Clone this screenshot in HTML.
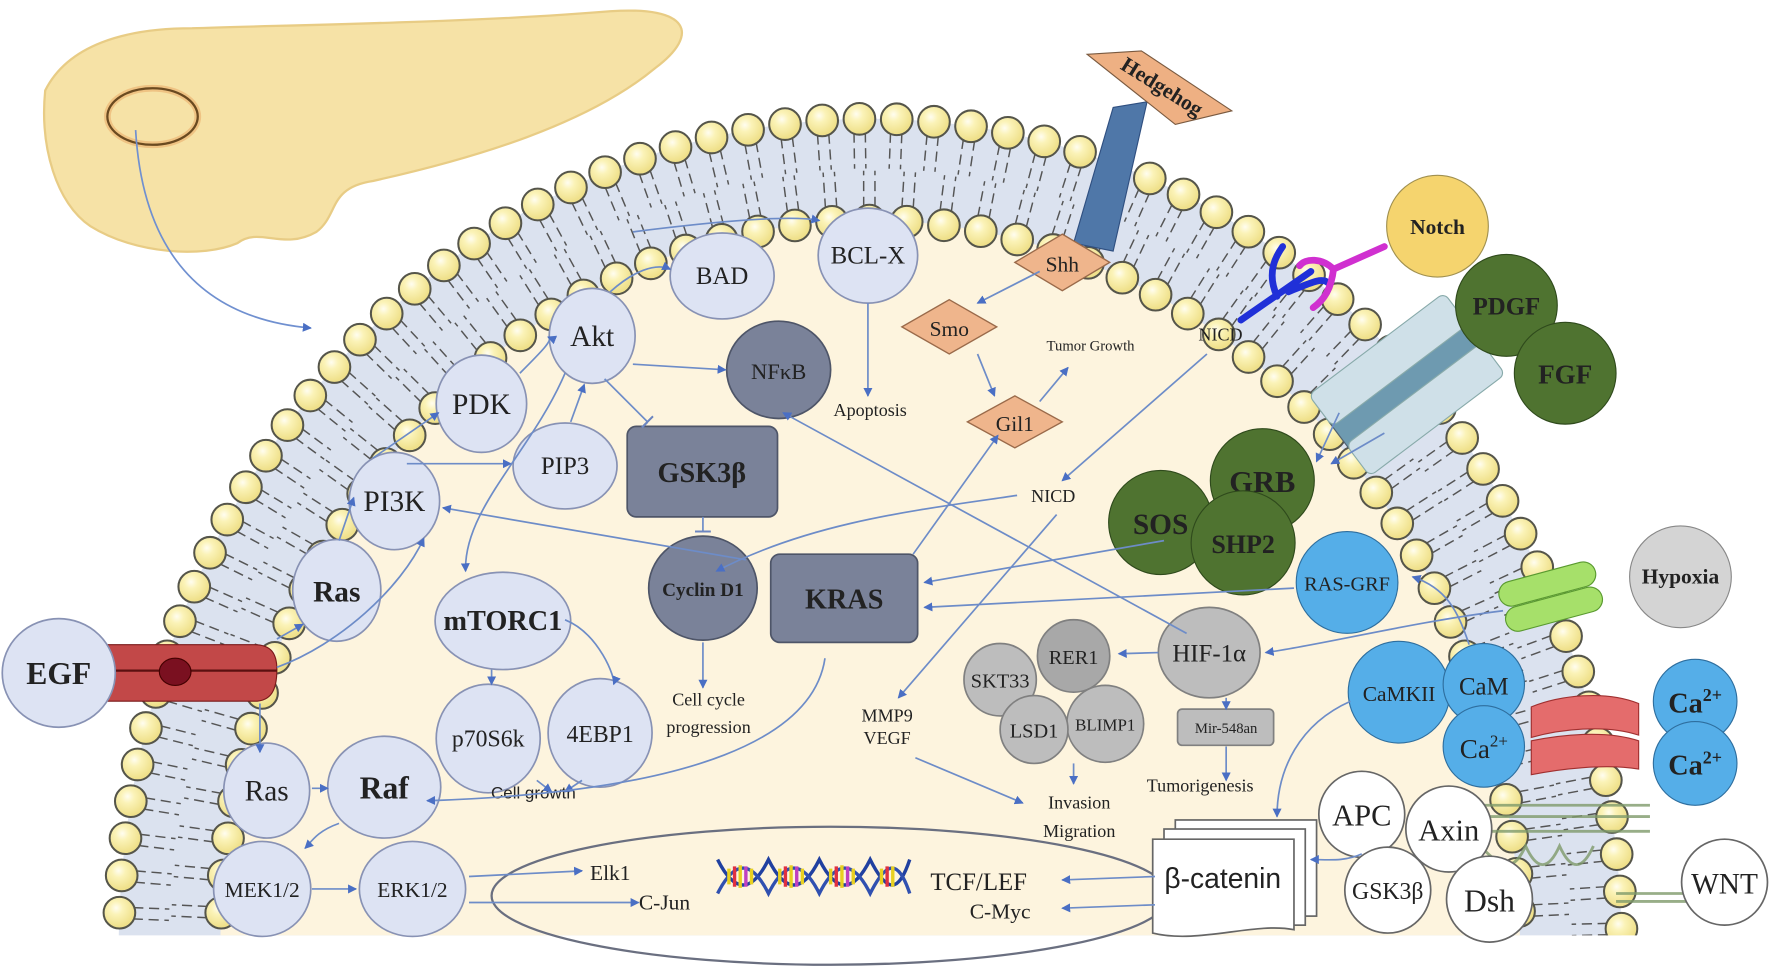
<!DOCTYPE html>
<html><head><meta charset="utf-8"><style>
html,body{margin:0;padding:0;background:#fff;width:1772px;height:967px;overflow:hidden;}
svg{display:block;overflow:hidden}
text{font-family:"Liberation Serif",serif;fill:#222;}
</style></head><body>
<svg id="s" width="1772" height="967" viewBox="0 0 1568 855" preserveAspectRatio="none" xmlns="http://www.w3.org/2000/svg">
<defs>
<marker id="a" markerWidth="8" markerHeight="8" refX="7" refY="4" orient="auto" markerUnits="userSpaceOnUse"><path d="M0,0 L8,4 L0,8 Z" fill="#4a6fc4"/></marker>
<marker id="t" markerWidth="2" markerHeight="14" refX="1" refY="7" orient="auto" markerUnits="userSpaceOnUse"><rect x="0" y="0" width="2" height="14" fill="#6d86c0"/></marker>
<clipPath id="cell"><rect x="0" y="0" width="1568" height="827"/></clipPath>
<clipPath id="all"><rect x="0" y="0" width="1568" height="855"/></clipPath>
<radialGradient id="bead" cx="0.4" cy="0.35" r="0.6"><stop offset="0" stop-color="#fffdf0"/><stop offset="0.35" stop-color="#fbf3b8"/><stop offset="1" stop-color="#efe08a"/></radialGradient>
</defs>
<g clip-path="url(#all)">
<path d="M40,80 C60,40 110,25 170,25 C260,22 420,20 540,10 C610,5 620,30 580,60 C520,110 420,140 330,160 C290,166 300,190 280,205 C250,222 230,200 210,215 C180,228 120,225 80,200 C50,180 35,130 40,80 Z" fill="#f6e2a6" stroke="#e8cc85" stroke-width="2"/>
<ellipse cx="135" cy="103" rx="40" ry="25" fill="none" stroke="#e8a460" stroke-width="6" opacity="0.5"/>
<ellipse cx="135" cy="103" rx="40" ry="25" fill="none" stroke="#6a4a20" stroke-width="2"/>
<path d="M120,115 C125,200 160,280 275,290" fill="none" stroke="#7090d0" stroke-width="1.5" marker-end="url(#a)"/>

<g clip-path="url(#cell)">
<path d="M105,840 A665,735 0 0 1 1435,840 Z" fill="#dbe2ef"/>
<path d="M195,840 A575,645 0 0 1 1345,840 Z" fill="#fdf4de"/>
<g id="tails" stroke="#555" stroke-width="1.3" stroke-dasharray="9 5"></g>
<g id="beads"></g>
</g>

<ellipse cx="735" cy="792" rx="300" ry="61" fill="none" stroke="#6a6f80" stroke-width="2"/>

<polygon points="985,95 1015,90 985,222 950,215" fill="#4f77a8" stroke="#2f4f80" stroke-width="1"/>
<polygon points="962,48 1010,45 1090,98 1040,110" fill="#eeb083" stroke="#7a5a40"/>
<text x="1025" y="82" font-size="19" font-weight="bold" transform="rotate(32 1025 82)" text-anchor="middle">Hedgehog</text>

<path d="M1098,283 L1160,240 M1130,262 C1120,240 1130,225 1135,218 M1140,258 C1160,250 1170,245 1175,250" stroke="#2030d8" stroke-width="6" fill="none" stroke-linecap="round"/>
<path d="M1225,218 L1180,238 M1180,238 C1170,228 1155,228 1150,235 M1180,238 C1178,255 1172,265 1162,272" stroke="#d030d0" stroke-width="6" fill="none" stroke-linecap="round"/>
<circle cx="1272" cy="200" r="45" fill="#f5d46e" stroke="#a09050"/>
<text x="1272" y="207" font-size="19" font-weight="bold" text-anchor="middle">Notch</text>

<g transform="rotate(-37 1250 355)">
<rect x="1180" y="325" width="150" height="28" fill="#6e9ab0" stroke="#506070"/>
<rect x="1180" y="295" width="150" height="35" rx="6" fill="#cfe0e8" stroke="#8aa"/>
<rect x="1180" y="350" width="150" height="35" rx="6" fill="#cfe0e8" stroke="#8aa"/>
</g>
<circle cx="1333" cy="270" r="45" fill="#4f7330" stroke="#2f4a1c"/>
<text x="1333" y="278" font-size="22" font-weight="bold" text-anchor="middle">PDGF</text>
<circle cx="1385" cy="330" r="45" fill="#4f7330" stroke="#2f4a1c"/>
<text x="1385" y="339" font-size="24" font-weight="bold" text-anchor="middle">FGF</text>

<circle cx="1117" cy="425" r="46" fill="#4f7330" stroke="#2f4a1c"/>
<text x="1117" y="435" font-size="27" font-weight="bold" text-anchor="middle">GRB</text>
<circle cx="1027" cy="462" r="46" fill="#4f7330" stroke="#2f4a1c"/>
<text x="1027" y="472" font-size="26" font-weight="bold" text-anchor="middle">SOS</text>
<circle cx="1100" cy="480" r="46" fill="#4f7330" stroke="#2f4a1c"/>
<text x="1100" y="489" font-size="23" font-weight="bold" text-anchor="middle">SHP2</text>

<g transform="rotate(-15 1372 527)">
<rect x="1328" y="505" width="88" height="22" rx="11" fill="#a6e06a" stroke="#5a9a30"/>
<rect x="1328" y="528" width="88" height="22" rx="11" fill="#a6e06a" stroke="#5a9a30"/>
</g>
<circle cx="1487" cy="510" r="45" fill="#d4d4d4" stroke="#888"/>
<text x="1487" y="516" font-size="19" font-weight="bold" text-anchor="middle">Hypoxia</text>

<circle cx="1192" cy="515" r="45" fill="#55aee8" stroke="#2e6e9e"/>
<text x="1192" y="522" font-size="18" text-anchor="middle">RAS-GRF</text>

<path d="M1355,625 C1380,615 1420,610 1450,622 L1450,650 C1420,640 1380,645 1355,652 Z" fill="#e46c6c" stroke="#a03030"/>
<path d="M1355,655 C1380,650 1420,645 1450,655 L1450,680 C1420,675 1380,680 1355,685 Z" fill="#e46c6c" stroke="#a03030"/>
<circle cx="1238" cy="612" r="45" fill="#55aee8" stroke="#2e6e9e"/>
<text x="1238" y="620" font-size="19" text-anchor="middle">CaMKII</text>
<circle cx="1313" cy="605" r="36" fill="#55aee8" stroke="#2e6e9e"/>
<text x="1313" y="614" font-size="22" text-anchor="middle">CaM</text>
<circle cx="1313" cy="660" r="36" fill="#55aee8" stroke="#2e6e9e"/>
<text x="1313" y="670" font-size="24" text-anchor="middle">Ca<tspan font-size="15" dy="-10">2+</tspan></text>
<circle cx="1500" cy="620" r="37" fill="#55aee8" stroke="#2e6e9e"/>
<text x="1500" y="630" font-size="25" font-weight="bold" text-anchor="middle">Ca<tspan font-size="16" dy="-10">2+</tspan></text>
<circle cx="1500" cy="675" r="37" fill="#55aee8" stroke="#2e6e9e"/>
<text x="1500" y="685" font-size="25" font-weight="bold" text-anchor="middle">Ca<tspan font-size="16" dy="-10">2+</tspan></text>

<path d="M1310,712 L1460,712 M1310,722 L1460,722 M1310,735 L1460,735 M1310,748 C1330,770 1340,770 1350,748 C1360,770 1370,770 1380,748 C1390,770 1400,770 1410,748 M1430,790 L1510,790 M1430,797 L1510,797" stroke="#7e9a6a" stroke-width="2.5" fill="none" opacity="0.8"/>

<g fill="#fff" stroke="#666" stroke-width="1.5">
<circle cx="1205" cy="720" r="38"/><circle cx="1282" cy="733" r="38"/><circle cx="1228" cy="787" r="38"/><circle cx="1318" cy="795" r="38"/><circle cx="1526" cy="780" r="38"/>
</g>
<text x="1205" y="730" font-size="27" text-anchor="middle">APC</text>
<text x="1282" y="743" font-size="27" text-anchor="middle">Axin</text>
<text x="1228" y="795" font-size="21" text-anchor="middle">GSK3β</text>
<text x="1318" y="806" font-size="28" text-anchor="middle">Dsh</text>
<text x="1526" y="790" font-size="26" text-anchor="middle">WNT</text>

<g fill="#fff" stroke="#666" stroke-width="1.5">
<rect x="1040" y="725" width="125" height="85"/>
<rect x="1030" y="733" width="125" height="85"/>
<path d="M1020,742 L1145,742 L1145,822 C1110,815 1060,835 1020,825 Z"/>
</g>
<text x="1082" y="785" font-size="25" text-anchor="middle" style="font-family:'Liberation Sans',sans-serif">β-catenin</text>

<g fill="#bdbdbd" stroke="#808080" stroke-width="1.5">
<circle cx="885" cy="601" r="32"/><circle cx="950" cy="580" r="32" fill="#a8a8a8"/><circle cx="978" cy="640" r="34"/><circle cx="915" cy="645" r="30"/>
<ellipse cx="1070" cy="577" rx="45" ry="40"/>
<rect x="1042" y="627" width="85" height="32" rx="4"/>
</g>
<text x="885" y="608" font-size="18" text-anchor="middle">SKT33</text>
<text x="950" y="587" font-size="18" text-anchor="middle">RER1</text>
<text x="915" y="652" font-size="18" text-anchor="middle">LSD1</text>
<text x="978" y="646" font-size="15" text-anchor="middle">BLIMP1</text>
<text x="1070" y="585" font-size="22" text-anchor="middle">HIF-1α</text>
<text x="1085" y="648" font-size="13" text-anchor="middle">Mir-548an</text>

<g fill="#efb58c" stroke="#9a6a4a" stroke-width="1.2">
<polygon points="940,207 982,232 940,257 898,232"/>
<polygon points="840,265 882,289 840,313 798,289"/>
<polygon points="898,350 940,373 898,396 856,373"/>
</g>
<text x="940" y="240" font-size="19" text-anchor="middle">Shh</text>
<text x="840" y="297" font-size="19" text-anchor="middle">Smo</text>
<text x="898" y="381" font-size="19" text-anchor="middle">Gil1</text>

<g fill="#dde3f3" stroke="#8892b4" stroke-width="1.5">
<ellipse cx="768" cy="226" rx="44" ry="42"/>
<ellipse cx="639" cy="244" rx="46" ry="38"/>
<ellipse cx="524" cy="297" rx="38" ry="42"/>
<ellipse cx="426" cy="357" rx="40" ry="43"/>
<ellipse cx="500" cy="412" rx="46" ry="38"/>
<ellipse cx="349" cy="443" rx="40" ry="43"/>
<ellipse cx="298" cy="522" rx="39" ry="45"/>
<ellipse cx="445" cy="549" rx="60" ry="43"/>
<ellipse cx="432" cy="653" rx="46" ry="48"/>
<ellipse cx="531" cy="648" rx="46" ry="48"/>
<ellipse cx="236" cy="699" rx="38" ry="42"/>
<ellipse cx="340" cy="696" rx="50" ry="45"/>
<ellipse cx="232" cy="786" rx="43" ry="42"/>
<ellipse cx="365" cy="786" rx="47" ry="42"/>
</g>
<path d="M85,570 L225,570 C240,570 245,578 245,592 C245,610 240,620 225,620 L85,620 Z" fill="#c24848" stroke="#7a1a1a"/>
<path d="M85,593 L245,593" stroke="#5a1010" stroke-width="2"/>
<ellipse cx="155" cy="594" rx="14" ry="12" fill="#7a1020" stroke="#400"/>
<ellipse cx="52" cy="595" rx="50" ry="48" fill="#dde3f3" stroke="#8892b4" stroke-width="1.5"/>

<g font-size="22" text-anchor="middle">
<text x="768" y="233">BCL-X</text>
<text x="639" y="251">BAD</text>
<text x="524" y="306" font-size="26">Akt</text>
<text x="426" y="366" font-size="26">PDK</text>
<text x="500" y="419">PIP3</text>
<text x="349" y="452" font-size="26">PI3K</text>
<text x="298" y="532" font-size="26" font-weight="bold">Ras</text>
<text x="445" y="557" font-size="25" font-weight="bold">mTORC1</text>
<text x="432" y="660" font-size="21">p70S6k</text>
<text x="531" y="656" font-size="21">4EBP1</text>
<text x="52" y="605" font-size="28" font-weight="bold">EGF</text>
<text x="236" y="708" font-size="26">Ras</text>
<text x="340" y="706" font-size="28" font-weight="bold">Raf</text>
<text x="232" y="793" font-size="19">MEK1/2</text>
<text x="365" y="793" font-size="19">ERK1/2</text>
</g>

<g fill="#7a8299" stroke="#4e5568" stroke-width="1.5">
<ellipse cx="689" cy="327" rx="46" ry="43"/>
<ellipse cx="622" cy="520" rx="48" ry="46"/>
<rect x="555" y="377" width="133" height="80" rx="8"/>
<rect x="682" y="490" width="130" height="78" rx="8"/>
</g>
<text x="689" y="335" font-size="20" text-anchor="middle">NFκB</text>
<text x="622" y="527" font-size="17" font-weight="bold" text-anchor="middle">Cyclin D1</text>
<text x="621" y="426" font-size="25" font-weight="bold" text-anchor="middle">GSK3β</text>
<text x="747" y="538" font-size="25" font-weight="bold" text-anchor="middle">KRAS</text>

<g font-size="16" text-anchor="middle">
<text x="770" y="368">Apoptosis</text>
<text x="965" y="310" font-size="13">Tumor Growth</text>
<text x="1080" y="301">NICD</text>
<text x="932" y="444">NICD</text>
<text x="627" y="624">Cell cycle</text>
<text x="627" y="648">progression</text>
<text x="472" y="706" font-size="15" style="font-family:'Liberation Sans',sans-serif">Cell growth</text>
<text x="785" y="638">MMP9</text>
<text x="785" y="658">VEGF</text>
<text x="955" y="715">Invasion</text>
<text x="955" y="740">Migration</text>
<text x="1062" y="700">Tumorigenesis</text>
<text x="540" y="778" font-size="19">Elk1</text>
<text x="588" y="804" font-size="19">C-Jun</text>
<text x="866" y="787" font-size="22">TCF/LEF</text>
<text x="885" y="812" font-size="19">C-Myc</text>
</g>

<g stroke-width="3" fill="none">
<path d="M635,760 C650,790 665,790 680,760 C695,790 710,790 725,760 C740,790 755,790 770,760 C785,790 795,790 805,760" stroke="#2040a0"/>
<path d="M635,790 C650,760 665,760 680,790 C695,760 710,760 725,790 C740,760 755,760 770,790 C785,760 795,760 805,790" stroke="#3050b0"/>
</g>
<g stroke-width="3">
<path d="M645,768 V782 M655,765 V785 M665,768 V782 M690,768 V782 M700,765 V785 M710,768 V782 M735,768 V782 M745,765 V785 M755,768 V782 M780,768 V782 M790,766 V784" stroke="#e8d020"/>
<path d="M650,766 V784 M695,766 V784 M740,766 V784 M785,766 V784" stroke="#e03040"/>
<path d="M660,766 V784 M705,766 V784 M750,766 V784" stroke="#c040c0"/>
</g>

<g fill="none" stroke="#6d8cc8" stroke-width="1.5" marker-end="url(#a)">
<path d="M460,330 C480,310 490,300 485,298"/>
<path d="M540,258 C560,240 580,232 593,238"/>
<path d="M560,205 C640,195 700,190 725,195"/>
<path d="M768,268 L768,350"/>
<path d="M560,322 L642,327"/>
<path d="M505,373 L517,340"/>
<path d="M360,410 L452,410"/>
<path d="M330,405 L388,365"/>
<path d="M300,478 L313,440"/>
<path d="M245,590 C300,570 355,520 375,476"/>
<path d="M245,565 L268,552"/>
<path d="M500,330 C470,400 410,450 412,505"/>
<path d="M500,548 C530,560 545,600 543,605"/>
<path d="M435,592 L435,605"/>
<path d="M660,495 L392,449"/>
<path d="M900,438 C820,450 720,460 634,505"/>
<path d="M808,490 L883,385"/>
<path d="M920,355 L945,325"/>
<path d="M865,313 L880,350"/>
<path d="M920,240 L865,268"/>
<path d="M1068,313 L940,425"/>
<path d="M935,455 L795,617"/>
<path d="M1050,560 L693,365"/>
<path d="M1030,478 L818,515"/>
<path d="M1145,520 L818,537"/>
<path d="M1330,540 C1250,550 1170,570 1120,577"/>
<path d="M1300,570 C1290,540 1280,520 1250,510"/>
<path d="M1225,383 L1178,410"/>
<path d="M1185,365 L1165,408"/>
<path d="M1025,577 L990,578"/>
<path d="M1085,617 L1085,627"/>
<path d="M1085,660 L1085,690"/>
<path d="M950,675 L950,693"/>
<path d="M810,670 L905,710"/>
<path d="M1195,620 C1150,640 1130,680 1130,722"/>
<path d="M1205,755 C1190,762 1175,760 1160,760"/>
<path d="M1022,775 L940,778"/>
<path d="M1022,800 L940,803"/>
<path d="M622,568 L622,608"/>
<path d="M475,690 L488,700"/>
<path d="M515,690 L500,700"/>
<path d="M730,582 C720,650 620,700 378,708"/>
<path d="M230,622 L230,665"/>
<path d="M276,697 L290,697"/>
<path d="M300,728 C280,735 275,745 270,750"/>
<path d="M276,786 L315,786"/>
<path d="M415,775 L515,770"/>
<path d="M415,798 L565,798"/>
</g>
<g fill="none" stroke="#6d8cc8" stroke-width="1.5">
<path d="M535,335 L573,373" marker-end="url(#t)"/>
<path d="M622,457 L622,470" marker-end="url(#t)"/>
</g>
</g>
<script>
(function(){
var g=document.getElementById('beads'),tl=document.getElementById('tails'),ns='http://www.w3.org/2000/svg';
function row(rx,ry,step,dir){
 var cx=770,cy=840,t=Math.PI,acc=0,px=cx-rx,py=cy,out=[[px,py,t]];
 for(var i=0;i<20000;i++){t+=Math.PI/20000;var x=cx+rx*Math.cos(t),y=cy+ry*Math.sin(t);acc+=Math.hypot(x-px,y-py);px=x;py=y;if(acc>=step){acc=0;out.push([x,y,t]);}}
 out.forEach(function(p){
  if(p[1]>838)return;
  var nx=Math.cos(p[2])/rx,ny=Math.sin(p[2])/ry,l=Math.hypot(nx,ny);nx/=l;ny/=l;
  [-5,5].forEach(function(o){var tx=-ny*o,ty=nx*o;var L=document.createElementNS(ns,'line');
   L.setAttribute('x1',p[0]+tx+dir*nx*12);L.setAttribute('y1',p[1]+ty+dir*ny*12);
   L.setAttribute('x2',p[0]+tx+dir*nx*44);L.setAttribute('y2',p[1]+ty+dir*ny*44);tl.appendChild(L);});
  var c=document.createElementNS(ns,'circle');c.setAttribute('cx',p[0]);c.setAttribute('cy',p[1]);c.setAttribute('r',14);c.setAttribute('fill','url(#bead)');c.setAttribute('stroke','#55554a');c.setAttribute('stroke-width','1.8');g.appendChild(c);});
}
row(665,735,33,-1);row(575,645,33,1);
})();
</script>
</svg>
</body></html>
